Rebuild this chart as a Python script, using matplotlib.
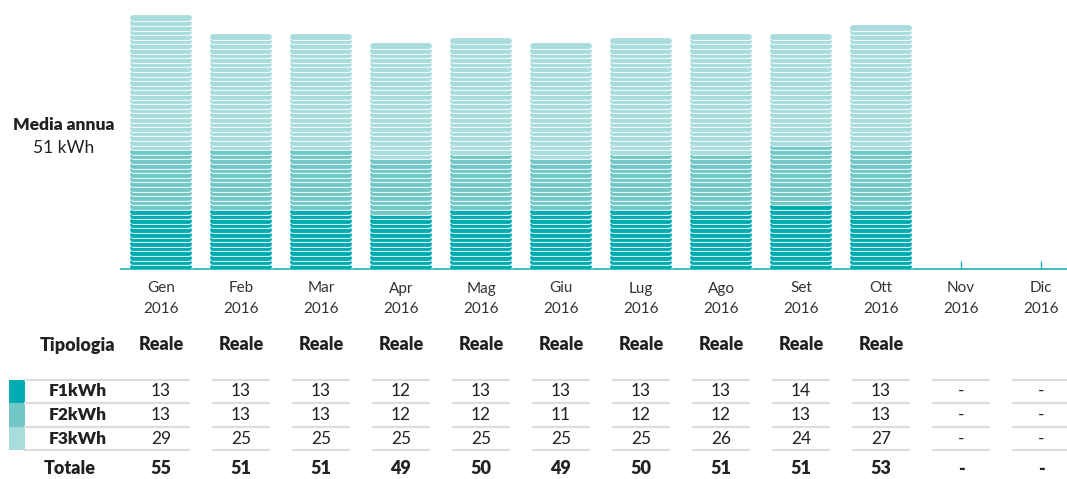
import matplotlib
matplotlib.use("Agg")
import matplotlib.pyplot as plt
import matplotlib.patheffects as pe
import numpy as np

plt.rcParams['font.family'] = ['Lato', 'DejaVu Sans']

# data
months = ['Gen', 'Feb', 'Mar', 'Apr', 'Mag', 'Giu', 'Lug', 'Ago', 'Set', 'Ott', 'Nov', 'Dic']
year = '2016'
f1 = [13, 13, 13, 12, 13, 13, 13, 13, 14, 13, None, None]
f2 = [13, 13, 13, 12, 12, 11, 12, 12, 13, 13, None, None]
f3 = [29, 25, 25, 25, 25, 25, 25, 26, 24, 27, None, None]
tipologia = ['Reale'] * 10 + [''] * 2
series_names = ['F1kWh', 'F2kWh', 'F3kWh']
colors = ['#00abb1', '#72c8c6', '#a9dcdd']
axis_col = '#1fb0b4'
txt = '#222222'
BOLD = 'heavy'

totals = [None if a is None else a + b + c for a, b, c in zip(f1, f2, f3)]
valid = [t for t in totals if t is not None]
media = round(sum(valid) / len(valid))

W, H = 1067, 479
fig = plt.figure(figsize=(W / 100, H / 100), dpi=100)

# overlay axes in pixel coordinates for table and side labels
tab = fig.add_axes([0, 0, 1, 1], zorder=0)
tab.set_xlim(0, W)
tab.set_ylim(H, 0)
tab.axis('off')

# chart axes: left edge 121px, baseline at 269px, top 10px
x0, x1 = 121, 1067
y_base, y_top = 269, 10
ax = fig.add_axes([x0 / W, 1 - y_base / H, (x1 - x0) / W, (y_base - y_top) / H], zorder=1)
ax.patch.set_alpha(0)
px_per_month = 80
ax.set_xlim(-0.5, -0.5 + (x1 - x0) / px_per_month)
px_per_unit = 4.6
ax.set_ylim(0, (y_base - y_top) / px_per_unit)

half = 0.355
lw = 4.2
zo = 2
for i in range(len(months)):
    if f1[i] is None:
        continue
    stack = [0] * f1[i] + [1] * f2[i] + [2] * f3[i]
    for k, s in enumerate(stack):
        ax.plot([i - half, i + half], [k + 0.5, k + 0.5], color=colors[s], lw=lw,
                solid_capstyle='round', zorder=zo,
                path_effects=[pe.Stroke(linewidth=lw + 0.6, foreground='white'), pe.Normal()])
        zo += 0.001

for sp in ['top', 'right', 'left']:
    ax.spines[sp].set_visible(False)
ax.spines['bottom'].set_color(axis_col)
ax.spines['bottom'].set_linewidth(1.2)
ax.spines['bottom'].set_zorder(1.5)
ax.set_yticks([])
ax.set_xticks(range(len(months)), labels=[f'{m}\n{year}' for m in months])
ax.tick_params(axis='x', direction='in', length=6, width=1, color=axis_col,
               labelcolor='#333333', labelsize=11, pad=9)
for lab in ax.get_xticklabels():
    lab.set_linespacing(1.55)

# side label
tab.text(64, 125, 'Media annua', ha='center', va='center', fontsize=12.5,
         fontweight=BOLD, color=txt)
tab.text(64, 148, f'{media} kWh', ha='center', va='center', fontsize=12.5, color=txt)

# table
centers = [161 + px_per_month * i for i in range(len(months))]
label_x = 78
row_y = [391, 415, 439]
line_y = [380, 403, 427, 450]

tab.text(label_x, 345, 'Tipologia', ha='center', va='center', fontsize=13,
         fontweight=BOLD, color=txt)
for c, t in zip(centers, tipologia):
    tab.text(c, 345, t, ha='center', va='center', fontsize=13, fontweight=BOLD, color=txt)

for j, (name, vals) in enumerate(zip(series_names, [f1, f2, f3])):
    tab.fill_between([9, 25], line_y[j], line_y[j + 1], color=colors[j], lw=0)
    tab.text(label_x, row_y[j], name, ha='center', va='center', fontsize=12.5,
             fontweight=BOLD, color=txt)
    for c, v in zip(centers, vals):
        tab.text(c, row_y[j], '-' if v is None else str(v), ha='center', va='center',
                 fontsize=12.5, color=txt)

for ly in line_y:
    tab.plot([25, centers[0] + 28], [ly, ly], color='#dddddd', lw=1.5)
    for c in centers[1:]:
        tab.plot([c - 28, c + 28], [ly, ly], color='#dddddd', lw=1.5)

tab.text(70, 469, 'Totale', ha='center', va='center', fontsize=13, fontweight=BOLD, color=txt)
for c, t in zip(centers, totals):
    tab.text(c, 469, '-' if t is None else str(t), ha='center', va='center',
             fontsize=13, fontweight=BOLD, color=txt)

fig.savefig('out.png', dpi=100)
